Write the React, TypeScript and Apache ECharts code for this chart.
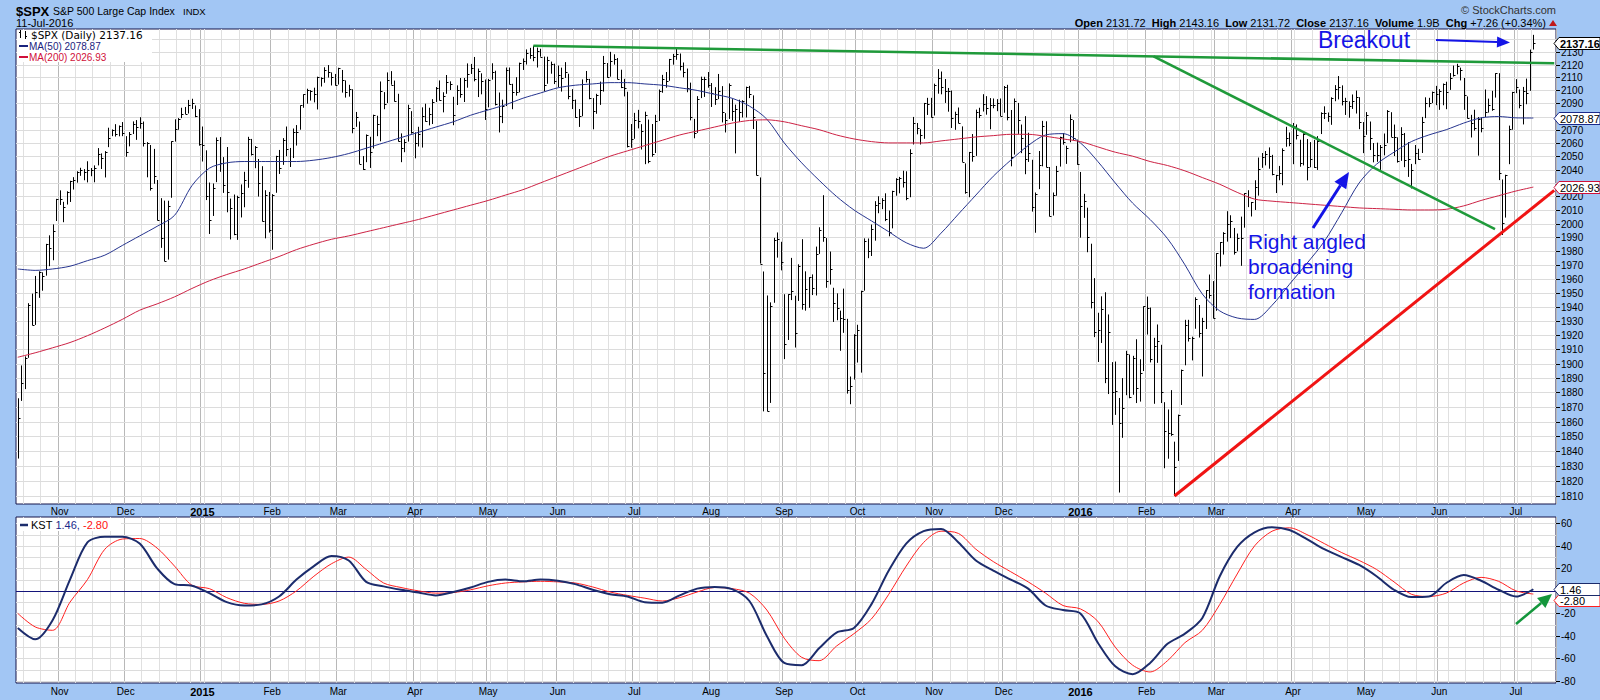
import React, { useEffect, useRef } from 'react';
import * as echarts from 'echarts';

// ---------- calendar ----------
const HOLIDAYS = ['2014-11-27','2014-12-25','2015-01-01','2015-01-19','2015-02-16','2015-04-03','2015-05-25','2015-07-03','2015-09-07','2015-11-26','2015-12-25','2016-01-01','2016-01-18','2016-02-15','2016-03-25','2016-05-30','2016-07-04'];
const FIRST_DAY = '2014-10-16';
const LAST_DAY = '2016-07-11';
const PAD_DAYS = 6;
const MONTH_NAMES = ['Jan','Feb','Mar','Apr','May','Jun','Jul','Aug','Sep','Oct','Nov','Dec'];

// ---------- daily bars [high, low, close] ----------
const oct14 = [[1876.0,1835.0,1862.8],[1898.7,1874.2,1886.8],[1905.0,1882.3,1904.0],[1942.5,1904.0,1941.3],[1949.3,1926.8,1927.1],[1962.0,1927.1,1950.8],[1965.3,1946.3,1964.6],[1964.6,1951.4,1961.6],[1985.2,1962.2,1985.1],[1991.4,1969.0,1982.3],[1999.4,1973.3,1994.7],[2018.2,2001.9,2018.1]];
const nov14 = [[2024.5,2013.7,2017.8],[2016.0,2001.0,2012.1],[2023.8,2014.0,2023.6],[2031.6,2015.9,2031.2],[2034.3,2025.1,2031.9],[2038.7,2030.2,2038.3],[2041.3,2035.3,2039.7],[2040.3,2032.0,2038.3],[2046.2,2030.4,2039.3],[2041.1,2035.0,2039.8],[2043.1,2030.5,2041.3],[2056.1,2043.1,2051.8],[2052.1,2040.4,2048.7],[2053.8,2034.1,2052.8],[2071.5,2056.8,2063.5],[2070.2,2065.1,2069.4],[2074.2,2064.8,2067.0],[2073.2,2065.0,2072.8],[2075.8,2065.1,2067.6]];
const dec14 = [[2065.1,2049.6,2053.4],[2068.2,2057.4,2066.6],[2076.3,2066.7,2074.3],[2077.3,2062.3,2071.9],[2079.5,2070.8,2075.4],[2076.2,2057.3,2060.3],[2060.6,2034.2,2059.8],[2058.4,2024.3,2026.1],[2055.5,2029.4,2035.3],[2032.2,2002.3,2002.3],[2018.7,1982.3,1989.6],[2016.9,1972.6,1972.7],[2016.8,1973.8,2012.9],[2061.2,2019.0,2061.2],[2077.9,2061.0,2070.7],[2078.8,2070.0,2078.5],[2086.7,2078.8,2082.2],[2087.3,2081.9,2081.9],[2092.7,2082.3,2088.8],[2093.6,2085.8,2090.6],[2088.5,2079.5,2080.4],[2085.6,2057.9,2058.9]];
const jan15 = [[2072.4,2046.0,2058.2],[2054.4,2017.3,2020.6],[2030.3,1992.4,2002.6],[2029.6,2005.6,2025.9],[2064.1,2030.6,2062.1],[2064.4,2038.3,2044.8],[2049.3,2022.6,2028.3],[2056.9,2008.3,2023.0],[2018.4,1988.4,2011.3],[2021.4,1991.5,1992.7],[2020.5,1988.1,2019.4],[2028.9,2004.5,2022.6],[2038.3,2012.0,2032.1],[2064.6,2026.4,2063.2],[2063.0,2050.5,2051.8],[2057.6,2041.0,2057.1],[2047.9,2019.9,2029.6],[2042.5,2001.5,2002.2],[2024.6,1989.2,2021.3],[2023.3,1993.4,1995.0]];
const feb15 = [[2021.7,1980.9,2020.9],[2050.3,2022.7,2050.0],[2054.7,2036.7,2041.5],[2063.6,2043.5,2062.5],[2072.4,2050.0,2055.5],[2056.2,2041.9,2046.7],[2070.9,2048.6,2068.6],[2073.5,2058.0,2068.5],[2088.5,2070.0,2088.5],[2097.0,2086.7,2097.0],[2101.3,2089.8,2100.3],[2100.2,2092.2,2099.7],[2102.1,2090.8,2097.5],[2110.6,2085.4,2110.3],[2110.1,2103.0,2109.7],[2117.9,2105.9,2115.5],[2119.6,2109.9,2113.9],[2113.9,2103.8,2110.7],[2112.7,2103.8,2104.5]];
const mar15 = [[2117.5,2104.5,2117.4],[2115.8,2098.3,2107.8],[2107.7,2094.5,2098.5],[2104.3,2095.2,2101.0],[2100.9,2067.3,2071.3],[2083.5,2072.2,2079.4],[2076.2,2044.2,2044.2],[2050.1,2039.7,2040.2],[2066.4,2045.5,2066.0],[2064.6,2041.2,2053.4],[2081.4,2055.8,2081.2],[2080.6,2065.1,2074.3],[2106.9,2061.2,2099.5],[2098.7,2085.6,2089.3],[2113.9,2090.3,2108.1],[2114.9,2104.4,2104.4],[2107.6,2091.5,2091.5],[2097.4,2061.1,2061.1],[2067.2,2045.5,2056.2],[2062.8,2053.0,2061.0],[2089.0,2061.0,2086.2],[2084.1,2067.0,2067.9]];
const apr15 = [[2068.0,2048.4,2059.7],[2072.2,2057.3,2067.0],[2087.0,2056.5,2080.6],[2089.8,2076.1,2076.3],[2086.7,2073.3,2081.9],[2093.3,2074.3,2091.2],[2102.6,2091.1,2102.1],[2107.7,2092.3,2092.4],[2098.6,2083.2,2095.8],[2111.9,2097.4,2106.6],[2107.0,2100.3,2105.0],[2095.1,2073.4,2081.2],[2103.9,2088.8,2100.4],[2109.6,2094.4,2097.3],[2109.6,2091.1,2108.0],[2120.9,2102.1,2112.9],[2120.5,2112.7,2117.7],[2125.9,2107.0,2108.9],[2116.9,2094.9,2114.8],[2113.2,2097.0,2106.9],[2108.4,2077.4,2085.5]];
const may15 = [[2108.9,2087.0,2108.3],[2121.0,2108.3,2114.5],[2115.2,2088.5,2089.5],[2098.4,2067.9,2080.2],[2092.9,2075.0,2088.0],[2117.7,2088.0,2116.1],[2117.7,2104.6,2105.3],[2105.1,2085.6,2099.1],[2110.2,2096.0,2098.5],[2121.5,2098.5,2121.1],[2124.7,2115.8,2122.7],[2131.8,2120.0,2129.2],[2133.0,2124.5,2127.8],[2134.7,2122.6,2125.9],[2133.2,2117.7,2130.8],[2132.3,2126.1,2126.1],[2126.2,2099.2,2104.2],[2126.1,2105.1,2123.5],[2122.3,2112.9,2120.8],[2120.7,2104.9,2107.4]];
const jun15 = [[2119.2,2102.5,2111.7],[2117.6,2099.1,2109.6],[2121.9,2109.6,2114.1],[2112.9,2093.2,2095.8],[2101.0,2085.7,2092.8],[2093.0,2079.1,2079.3],[2085.7,2072.1,2080.2],[2108.5,2080.2,2105.2],[2115.0,2106.1,2108.9],[2108.9,2093.2,2094.1],[2094.1,2070.3,2084.4],[2097.4,2082.1,2096.3],[2106.8,2088.9,2100.4],[2126.7,2099.1,2121.2],[2121.2,2109.8,2110.0],[2129.9,2110.6,2122.9],[2128.0,2119.9,2124.2],[2125.1,2108.6,2108.6],[2116.0,2101.8,2102.3],[2108.9,2095.4,2101.5],[2099.0,2056.6,2057.6],[2074.3,2056.3,2063.1]];
const jul15 = [[2082.8,2063.1,2077.4],[2085.1,2071.0,2076.8],[2074.2,2055.0,2068.8],[2083.7,2044.0,2081.3],[2077.7,2044.7,2046.7],[2074.3,2049.6,2051.3],[2081.3,2052.4,2076.6],[2100.7,2076.6,2099.6],[2112.0,2098.2,2109.0],[2114.2,2102.1,2107.4],[2124.4,2107.4,2124.3],[2128.3,2119.9,2126.6],[2132.8,2123.7,2128.3],[2128.6,2115.4,2119.2],[2121.6,2110.1,2114.2],[2116.9,2098.6,2102.2],[2106.0,2077.1,2079.7],[2078.2,2063.5,2067.6],[2095.6,2067.6,2093.3],[2110.6,2094.1,2108.6],[2110.5,2095.0,2108.6],[2114.2,2102.1,2103.8]];
const aug15 = [[2105.7,2087.3,2098.0],[2102.5,2088.9,2093.3],[2112.7,2093.3,2099.8],[2103.3,2075.5,2083.6],[2082.6,2067.9,2077.6],[2105.4,2078.2,2104.2],[2093.3,2076.7,2084.1],[2089.1,2052.1,2086.1],[2092.9,2076.1,2083.4],[2092.5,2079.3,2091.5],[2102.9,2079.3,2102.4],[2103.5,2094.1,2096.9],[2096.2,2070.5,2079.6],[2076.6,2035.7,2035.7],[2034.1,1970.9,1970.9],[1965.2,1867.0,1893.2],[1948.0,1867.1,1867.6],[1943.1,1872.8,1940.5],[1989.6,1942.8,1987.7],[1993.5,1975.2,1988.9],[1986.7,1966.0,1972.2]];
const sep15 = [[1948.9,1903.1,1913.9],[1948.9,1916.5,1948.9],[1975.0,1944.7,1951.1],[1947.8,1911.2,1921.2],[1970.4,1944.1,1969.4],[1988.6,1937.9,1942.0],[1965.3,1937.2,1952.3],[1961.1,1939.2,1961.1],[1963.1,1948.3,1953.0],[1983.2,1948.0,1978.1],[1997.3,1977.9,1995.3],[2020.9,1986.7,1990.2],[1989.4,1953.5,1958.0],[1979.6,1955.8,1967.0],[1953.5,1929.2,1942.7],[1949.5,1930.4,1938.8],[1937.2,1908.9,1932.2],[1952.9,1921.5,1931.3],[1931.4,1879.2,1881.8],[1891.0,1871.9,1884.1],[1920.5,1888.9,1920.0]];
const oct15 = [[1927.2,1900.7,1923.8],[1951.4,1893.7,1951.4],[1989.2,1951.4,1987.1],[1989.1,1974.8,1979.9],[1999.3,1976.4,1995.8],[2016.5,1987.5,2013.4],[2020.1,2007.6,2014.9],[2018.7,2010.6,2017.5],[2022.3,2001.8,2003.7],[2009.6,1990.7,1994.2],[2024.2,1996.5,2023.9],[2033.5,2020.5,2033.1],[2034.5,2022.3,2033.7],[2039.1,2026.6,2030.8],[2038.7,2017.2,2018.9],[2055.2,2019.4,2052.5],[2079.7,2058.8,2075.2],[2075.1,2066.5,2071.2],[2070.4,2058.8,2065.9],[2090.4,2063.1,2090.4],[2094.3,2081.2,2089.4],[2094.3,2079.3,2079.4]];
const nov15 = [[2105.2,2080.8,2104.1],[2116.5,2097.5,2109.8],[2114.6,2097.0,2102.3],[2108.8,2090.4,2099.9],[2101.9,2083.7,2099.2],[2099.9,2071.3,2078.6],[2083.7,2069.9,2081.7],[2086.9,2074.9,2075.0],[2072.5,2045.7,2046.0],[2044.6,2022.0,2023.0],[2053.2,2019.4,2053.2],[2066.7,2045.9,2050.4],[2085.3,2050.2,2083.6],[2086.7,2078.8,2081.2],[2097.1,2083.8,2089.2],[2095.6,2081.4,2086.6],[2094.1,2070.3,2089.1],[2093.8,2086.3,2088.9],[2093.3,2084.1,2090.1],[2093.8,2080.4,2080.4]];
const dec15 = [[2103.4,2082.9,2102.6],[2104.3,2077.1,2079.5],[2085.0,2042.4,2049.6],[2093.8,2051.2,2091.7],[2090.4,2066.8,2077.1],[2073.9,2052.3,2063.6],[2080.3,2036.5,2047.6],[2067.7,2045.7,2052.2],[2047.3,2008.8,2012.4],[2022.9,1993.3,2021.9],[2053.9,2025.4,2043.4],[2076.7,2042.4,2073.1],[2076.4,2041.7,2041.9],[2041.9,2005.3,2005.6],[2022.9,2005.9,2021.2],[2042.7,2020.5,2039.0],[2064.7,2042.2,2064.3],[2067.4,2058.7,2061.0],[2057.8,2044.2,2056.5],[2081.6,2060.5,2078.4],[2077.3,2062.0,2063.4],[2062.5,2043.6,2043.9]];
const jan16 = [[2038.2,1989.7,2012.7],[2021.9,2004.2,2016.7],[2011.7,1979.1,1990.3],[1985.3,1938.8,1943.1],[1960.4,1918.5,1922.0],[1935.7,1901.1,1923.7],[1947.4,1914.4,1938.7],[1950.3,1886.4,1890.3],[1934.5,1878.9,1921.8],[1901.0,1857.8,1880.3],[1901.4,1864.6,1881.3],[1876.2,1812.3,1859.3],[1889.9,1849.0,1869.0],[1908.9,1878.1,1906.9],[1906.3,1876.0,1877.1],[1905.4,1878.4,1903.6],[1917.0,1872.7,1883.0],[1903.0,1873.7,1893.4],[1940.2,1894.8,1940.2]];
const feb16 = [[1947.2,1920.3,1939.4],[1939.4,1900.8,1903.0],[1918.0,1872.2,1912.5],[1927.4,1900.5,1915.5],[1913.1,1872.7,1880.1],[1873.3,1828.5,1853.4],[1868.3,1834.9,1852.2],[1881.6,1850.3,1851.9],[1846.4,1810.1,1829.1],[1864.8,1833.4,1864.8],[1895.8,1871.4,1895.6],[1930.7,1898.8,1926.8],[1930.7,1915.4,1917.8],[1918.8,1902.2,1917.8],[1946.7,1924.4,1945.5],[1941.2,1918.2,1921.3],[1932.1,1891.0,1929.8],[1951.8,1924.2,1951.7],[1963.0,1945.8,1948.1],[1958.3,1931.8,1932.2]];
const mar16 = [[1978.4,1937.1,1978.4],[1986.5,1968.8,1986.5],[1993.7,1977.4,1993.4],[2009.1,1986.8,2000.0],[2006.1,1989.4,2001.8],[1996.8,1977.4,1979.3],[1992.7,1979.8,1989.3],[2005.1,1969.3,1989.6],[2022.4,1997.0,2022.2],[2024.6,2012.1,2019.6],[2015.9,2005.2,2015.9],[2032.0,2010.0,2027.2],[2049.0,2020.6,2040.6],[2052.4,2041.3,2049.6],[2053.9,2043.1,2051.6],[2056.6,2040.6,2049.8],[2051.0,2035.7,2036.7],[2036.0,2022.5,2035.9],[2042.7,2032.0,2037.1],[2055.9,2028.3,2055.0],[2072.2,2057.1,2064.0],[2067.9,2057.5,2059.7]];
const apr16 = [[2075.1,2044.0,2072.8],[2074.0,2062.6,2066.1],[2062.4,2042.1,2045.2],[2067.3,2043.1,2066.7],[2062.9,2031.9,2041.9],[2060.6,2041.7,2047.6],[2062.3,2041.2,2042.0],[2065.1,2039.7,2061.7],[2083.2,2066.7,2082.4],[2087.8,2078.1,2082.8],[2083.1,2076.0,2080.7],[2094.7,2073.7,2094.3],[2104.1,2091.7,2100.8],[2111.1,2093.1,2102.4],[2103.9,2088.5,2091.5],[2094.3,2081.2,2091.6],[2091.6,2079.1,2087.8],[2096.9,2085.8,2091.7],[2099.9,2082.3,2095.2],[2094.8,2070.4,2075.8],[2075.8,2052.3,2065.3]];
const may16 = [[2083.4,2066.1,2081.4],[2076.2,2054.6,2063.4],[2059.9,2045.4,2051.1],[2060.2,2045.8,2050.6],[2058.4,2039.7,2057.1],[2067.1,2050.6,2058.7],[2084.9,2059.9,2084.4],[2083.3,2064.5,2064.5],[2073.9,2050.1,2064.1],[2064.2,2045.2,2046.6],[2071.9,2046.5,2066.7],[2067.5,2041.8,2047.2],[2060.6,2034.5,2047.6],[2044.2,2025.9,2040.0],[2058.4,2044.0,2052.3],[2055.6,2047.3,2048.0],[2079.7,2052.4,2076.1],[2094.7,2078.8,2090.5],[2094.3,2087.1,2090.1],[2099.1,2090.3,2099.1],[2103.5,2088.7,2097.0]];
const jun16 = [[2101.0,2085.1,2099.3],[2105.3,2088.6,2105.3],[2106.7,2085.6,2099.1],[2113.4,2100.4,2109.4],[2119.2,2110.7,2112.1],[2120.6,2112.4,2119.1],[2117.6,2107.7,2115.5],[2109.6,2085.1,2096.1],[2095.4,2078.5,2079.1],[2081.3,2064.1,2075.3],[2085.2,2069.3,2071.5],[2079.6,2050.4,2078.0],[2079.3,2068.0,2071.2],[2100.7,2079.6,2083.3],[2093.7,2083.0,2088.9],[2099.7,2084.4,2085.5],[2113.3,2094.5,2113.3],[2113.3,2032.1,2037.4],[2032.6,1991.7,2000.5],[2036.1,2004.4,2036.1],[2073.1,2044.0,2070.8],[2098.9,2070.0,2098.9]];
const jul16 = [[2108.7,2097.9,2103.0],[2100.7,2086.3,2088.6],[2102.7,2074.0,2099.7],[2109.1,2089.4,2097.9],[2131.7,2099.7,2129.9],[2143.2,2131.7,2137.2]];

// ---------- indicator lines, read every 5 bars ----------
const SAMPLE_STEP = 5;
const ma50 = [1967,1966,1967,1969,1973,1977,1984,1991,1998,2006,2028,2041,2045,2046,2046,2046,2046,2047,2049,2052,2056,2060,2064,2068,2072,2076,2081,2085,2089,2094,2098,2102,2104,2105,2106,2106,2105,2104,2102,2100,2097,2094,2088,2078,2060,2045,2032,2020,2010,2002,1994,1986,1982,1993,2007,2021,2035,2047,2058,2066,2067,2060,2046,2030,2015,2003,1989,1970,1949,1937,1932,1931,1941,1956,1971,1987,2008,2030,2044,2053,2061,2066,2070,2075,2079,2080,2079,2078.87];
const ma200 = [1904.4,1907.5,1911,1914.7,1919.5,1925,1931,1937.5,1942,1947,1953,1958.5,1963,1967,1971.5,1976,1981,1985,1988.5,1991,1994,1997,2000,2003,2006.5,2010,2013.5,2017,2021,2025,2030,2035,2040,2045,2050,2054,2058,2062,2066,2069,2072,2075,2077,2077.5,2076,2073,2070,2066,2063,2061,2060,2060,2060,2061.5,2063,2064.5,2065.5,2066.5,2066.5,2065,2063,2061,2057,2053,2050,2046,2043,2039,2034,2029,2023,2018,2016.5,2015.5,2014.5,2013.5,2012.5,2011.5,2011,2010.5,2010,2010,2010.5,2013,2017,2020.5,2024,2026.93];
const kst = [-33,-43,-26,10,43,48,48,42,20,6,4.5,-2,-10,-13,-12,-5,10,22,31,27,8,4,1,-1.5,-4,-1,3,8,10,8.5,10,9,6,1,-3,-5,-10,-10.5,-4,2,3.5,1.5,-9,-40,-64,-66,-51,-37,-33,-12,18,42,53,55,43,27,18,10,2,-13,-17,-20,-46,-67,-74,-64,-47,-38,-24,13,39,52,56.5,54,46,37,30,23,13,1,-5.5,-5,7,14,9,1,-5,1.46];
const kstSignal = [-20,-32,-35,-10,10,37,46,46.5,38,22,5,2,-6,-11,-12,-9,0,13,24,30,19,7,3,0,-2,-1.5,1,4.5,7,8,8.5,8,7,3.5,-1,-4,-6.5,-9,-6,-1,3,2,-2,-17,-42,-59,-62,-49,-38,-25,-3,22,43,53,51,37,26,17,8,-2,-13,-16,-27,-50,-66,-72,-62,-46,-35,-12,15,40,53,56,50,42,34,27,19,8,-3,-5,-2,7,12,8.5,0,-2.8];

// ---------- trend lines drawn on the chart [barIndex, price] ----------
const resistanceLine = [[148, 2134.7], [441, 2121.0]];
const fallingLine = [[326, 2126.4], [424, 1996.0]];
const supportLine = [[332, 1810.0], [441, 2024.5]];

// ---------- axis ticks ----------
const priceTicks = [1810,1820,1830,1840,1850,1860,1870,1880,1890,1900,1910,1920,1930,1940,1950,1960,1970,1980,1990,2000,2010,2020,2030,2040,2050,2060,2070,2080,2090,2100,2110,2120,2130,2140];
const kstGridLevels = [-80,-70,-60,-50,-40,-30,-20,-10,0,10,20,30,40,50,60];
const kstTickLabels = [-80,-60,-40,-20,0,20,40,60];

const priceEndBoxes = [
  { v: 2026.93, text: '2026.93', border: '#d0103a', color: '#000', bold: false, dy: 0 },
  { v: 2078.87, text: '2078.87', border: '#1a2a8a', color: '#000', bold: false, dy: 0 },
  { v: 2137.16, text: '2137.16', border: '#000', color: '#000', bold: true, dy: 0 },
];
const kstEndBoxes = [
  { v: -2.80, text: '-2.80', border: '#ff2020', color: '#000', bold: false, dy: 6 },
  { v: 1.46, text: '1.46', border: '#1a2a6a', color: '#000', bold: false, dy: 0 },
];

const FONT = '"Liberation Sans", Arial, sans-serif';
const BG = '#a2c6f4';

function buildDates(): string[] {
  const out: string[] = [];
  const start = Date.parse(FIRST_DAY + 'T00:00:00Z');
  const end = Date.parse(LAST_DAY + 'T00:00:00Z');
  for (let t = start; t <= end; t += 86400000) {
    const d = new Date(t);
    const wd = d.getUTCDay();
    if (wd === 0 || wd === 6) continue;
    const s = d.toISOString().slice(0, 10);
    if (HOLIDAYS.indexOf(s) >= 0) continue;
    out.push(s);
  }
  return out;
}

function arrow(x1: number, y1: number, x2: number, y2: number, color: string, width: number, head: number, half: number) {
  const a = Math.atan2(y2 - y1, x2 - x1);
  const bx = x2 - head * Math.cos(a);
  const by = y2 - head * Math.sin(a);
  const px = Math.sin(a) * half;
  const py = -Math.cos(a) * half;
  return [
    { type: 'line', z: 100, shape: { x1, y1, x2: bx, y2: by }, style: { stroke: color, lineWidth: width } },
    { type: 'polygon', z: 100, shape: { points: [[x2, y2], [bx + px, by + py], [bx - px, by - py]] }, style: { fill: color } },
  ];
}

function boxY(api: any, b: any) {
  return Math.round(api.coord([0, b.v])[1]) + 0.5 + b.dy;
}

function boxRenderer(boxes: any[]) {
  return (params: any, api: any) => {
    const b = boxes[params.dataIndex];
    const cs = params.coordSys;
    const y = boxY(api, b);
    const x0 = cs.x + cs.width - 2;
    const w = 46, h = 12;
    return {
      type: 'group',
      children: [
        { type: 'polygon', shape: { points: [[x0, y], [x0 + 5, y - h / 2], [x0 + w, y - h / 2], [x0 + w, y + h / 2], [x0 + 5, y + h / 2]] }, style: { fill: '#fff', stroke: b.border, lineWidth: 1 } },
        { type: 'text', x: x0 + 6, y: y, style: { text: b.text, fill: b.color, font: (b.bold ? 'bold ' : '') + '11px ' + FONT, verticalAlign: 'middle', textVerticalAlign: 'middle' } },
      ],
    };
  };
}

function gridRenderer(labels: number[] | null, zeroColor: string | null, boxes: any[]) {
  return (params: any, api: any) => {
    const cs = params.coordSys;
    const v = api.value(1);
    const y = Math.round(api.coord([0, v])[1]) + 0.5;
    const right = cs.x + cs.width;
    const isZero = zeroColor && v === 0;
    const children: any[] = [
      { type: 'line', shape: { x1: cs.x, y1: y, x2: right, y2: y }, style: { stroke: isZero ? zeroColor : '#dcdcdc', lineWidth: 1 } },
    ];
    const hidden = boxes.some((b) => Math.abs(boxY(api, b) - y) < 8);
    if ((!labels || labels.indexOf(v) >= 0) && !hidden) {
      children.push({ type: 'line', shape: { x1: right, y1: y, x2: right + 4, y2: y }, style: { stroke: '#000', lineWidth: 1 } });
      children.push({ type: 'text', x: right + 5, y: y, style: { text: String(v), fill: '#000', font: '10px ' + FONT, verticalAlign: 'middle', textVerticalAlign: 'middle' } });
    }
    return { type: 'group', children };
  };
}

export default function App() {
  const ref = useRef<HTMLDivElement>(null);
  useEffect(() => {
    if (!ref.current) return;
    const chart = echarts.init(ref.current, null, { renderer: 'svg' });

    const dates = buildDates();
    const bars = [oct14, nov14, dec14, jan15, feb15, mar15, apr15, may15, jun15, jul15, aug15, sep15, oct15, nov15, dec15, jan16, feb16, mar16, apr16, may16, jun16, jul16].flat();
    const cats = dates.slice();
    for (let i = 0; i < PAD_DAYS; i++) cats.push('pad' + i);
    const monthStart: boolean[] = cats.map((c, i) => i > 0 && i < dates.length && dates[i].slice(5, 7) !== dates[i - 1].slice(5, 7));
    const weekNum = (s: string) => Math.floor((Date.parse(s + 'T00:00:00Z') / 86400000 + 3) / 7);
    const weekStart: boolean[] = cats.map((c, i) => i > 0 && i < dates.length && weekNum(dates[i]) !== weekNum(dates[i - 1]));
    const monthLabel = (value: string) => {
      const m = parseInt(value.slice(5, 7), 10);
      return m === 1 ? '{y|' + value.slice(0, 4) + '}' : MONTH_NAMES[m - 1];
    };

    const ohlcData = bars.map((b, i) => [i, b[0], b[1], b[2]]);
    const sampled = (arr: number[]) => arr.map((v, k) => [k * SAMPLE_STEP, v]);

    const xBase = (grid: number, kind: 'week' | 'month', labelMargin: number) => ({
      type: 'category', gridIndex: grid, data: cats, boundaryGap: true, position: 'bottom',
      axisLine: { show: false }, axisTick: { show: false },
      axisLabel: kind === 'month'
        ? { show: true, interval: (i: number) => monthStart[i], formatter: (v: string) => monthLabel(v), margin: labelMargin, fontSize: 10, color: '#000', fontFamily: FONT, rich: { y: { fontWeight: 'bold', fontSize: 11, fontFamily: FONT, color: '#000' } } }
        : { show: false },
      splitLine: { show: true, interval: (i: number) => (kind === 'month' ? monthStart[i] : weekStart[i]), lineStyle: { color: kind === 'month' ? '#b8b8b8' : '#e0e0e0', width: 1 } },
    });

    const option: any = {
      animation: false,
      backgroundColor: BG,
      textStyle: { fontFamily: FONT },
      grid: [
        { left: 16, top: 29, width: 1540, height: 475, show: true, backgroundColor: '#fff', borderColor: '#14144a', borderWidth: 1 },
        { left: 16, top: 517, width: 1540, height: 166, show: true, backgroundColor: '#fff', borderColor: '#14144a', borderWidth: 1 },
      ],
      xAxis: [xBase(0, 'week', 2), xBase(0, 'month', 2), xBase(1, 'week', 3), xBase(1, 'month', 3)],
      yAxis: [
        { type: 'log', gridIndex: 0, min: 1804.7, max: 2147.8, show: false },
        { type: 'value', gridIndex: 1, min: -81.8, max: 65.6, show: false },
      ],
      series: [
        { type: 'custom', xAxisIndex: 0, yAxisIndex: 0, z: 1, silent: true, clip: false, data: priceTicks.map((v) => [0, v]), encode: { x: 0, y: 1 }, renderItem: gridRenderer(null, null, priceEndBoxes) },
        {
          type: 'custom', name: '$SPX', xAxisIndex: 0, yAxisIndex: 0, z: 2, silent: true, data: ohlcData, encode: { x: 0, y: [1, 2, 3] },
          renderItem: (params: any, api: any) => {
            const i = api.value(0);
            const hi = api.coord([i, api.value(1)]);
            const lo = api.coord([i, api.value(2)]);
            const cl = api.coord([i, api.value(3)]);
            const x = Math.round(hi[0]) + 0.5;
            const yc = Math.round(cl[1]) + 0.5;
            return {
              type: 'group', children: [
                { type: 'line', shape: { x1: x, y1: hi[1], x2: x, y2: lo[1] }, style: { stroke: '#000', lineWidth: 1 } },
                { type: 'line', shape: { x1: x, y1: yc, x2: x + 2, y2: yc }, style: { stroke: '#000', lineWidth: 1 } },
              ],
            };
          },
        },
        { type: 'line', name: 'MA(50)', xAxisIndex: 0, yAxisIndex: 0, z: 3, silent: true, data: sampled(ma50), symbol: 'none', smooth: 0.3, lineStyle: { color: '#26348e', width: 1 } },
        { type: 'line', name: 'MA(200)', xAxisIndex: 0, yAxisIndex: 0, z: 3, silent: true, data: sampled(ma200), symbol: 'none', smooth: 0.3, lineStyle: { color: '#cc2244', width: 1 } },
        { type: 'line', xAxisIndex: 0, yAxisIndex: 0, z: 4, silent: true, data: resistanceLine, symbol: 'none', lineStyle: { color: '#1f9a3a', width: 2.5 } },
        { type: 'line', xAxisIndex: 0, yAxisIndex: 0, z: 4, silent: true, data: fallingLine, symbol: 'none', lineStyle: { color: '#1f9a3a', width: 2.5 } },
        { type: 'line', xAxisIndex: 0, yAxisIndex: 0, z: 4, silent: true, data: supportLine, symbol: 'none', lineStyle: { color: '#f01414', width: 3 } },
        { type: 'custom', xAxisIndex: 0, yAxisIndex: 0, z: 10, silent: true, clip: false, data: priceEndBoxes.map((b) => [0, b.v]), encode: { x: 0, y: 1 }, renderItem: boxRenderer(priceEndBoxes) },

        { type: 'custom', xAxisIndex: 2, yAxisIndex: 1, z: 1, silent: true, clip: false, data: kstGridLevels.map((v) => [0, v]), encode: { x: 0, y: 1 }, renderItem: gridRenderer(kstTickLabels, '#14147a', kstEndBoxes) },
        { type: 'line', name: 'KST signal', xAxisIndex: 2, yAxisIndex: 1, z: 3, silent: true, data: sampled(kstSignal), symbol: 'none', smooth: 0.3, lineStyle: { color: '#ff2020', width: 1 } },
        { type: 'line', name: 'KST', xAxisIndex: 2, yAxisIndex: 1, z: 4, silent: true, data: sampled(kst), symbol: 'none', smooth: 0.3, lineStyle: { color: '#1c2c6c', width: 2 } },
        { type: 'custom', xAxisIndex: 2, yAxisIndex: 1, z: 10, silent: true, clip: false, data: kstEndBoxes.map((b) => [0, b.v]), encode: { x: 0, y: 1 }, renderItem: boxRenderer(kstEndBoxes) },
      ],
      graphic: [
        // header
        { type: 'text', x: 16, y: 11, z: 100, style: { text: '$SPX', font: 'bold 13px ' + FONT, fill: '#000', verticalAlign: 'middle', textVerticalAlign: 'middle' } },
        { type: 'text', x: 53, y: 11, z: 100, style: { text: 'S&P 500 Large Cap Index', font: '10.5px ' + FONT, fill: '#000', verticalAlign: 'middle', textVerticalAlign: 'middle' } },
        { type: 'text', x: 183, y: 11, z: 100, style: { text: 'INDX', font: '9.5px ' + FONT, fill: '#000', verticalAlign: 'middle', textVerticalAlign: 'middle' } },
        { type: 'text', x: 16, y: 23, z: 100, style: { text: '11-Jul-2016', font: '11px ' + FONT, fill: '#000', verticalAlign: 'middle', textVerticalAlign: 'middle' } },
        { type: 'text', x: 1556, y: 10, z: 100, style: { text: '© StockCharts.com', font: '11px ' + FONT, fill: '#333', align: 'right', textAlign: 'right', verticalAlign: 'middle', textVerticalAlign: 'middle' } },
        {
          type: 'text', x: 1546, y: 23, z: 100,
          style: {
            text: '{b|Open} 2131.72  {b|High} 2143.16  {b|Low} 2131.72  {b|Close} 2137.16  {b|Volume} 1.9B  {b|Chg} +7.26 (+0.34%)',
            font: '11px ' + FONT, fill: '#000', align: 'right', textAlign: 'right', verticalAlign: 'middle', textVerticalAlign: 'middle',
            rich: { b: { fontWeight: 'bold', fontSize: 11, fontFamily: FONT, fill: '#000', color: '#000' } },
          },
        },
        { type: 'polygon', z: 100, shape: { points: [[1549, 26], [1557, 26], [1553, 20]] }, style: { fill: '#c01818' } },
        // price panel legend
        { type: 'rect', z: 100, shape: { x: 17, y: 30, width: 135, height: 32 }, style: { fill: '#fff' } },
        { type: 'line', z: 101, shape: { x1: 20.5, y1: 30, x2: 20.5, y2: 38 }, style: { stroke: '#000', lineWidth: 1 } },
        { type: 'line', z: 101, shape: { x1: 19, y1: 32.5, x2: 20.5, y2: 32.5 }, style: { stroke: '#000', lineWidth: 1 } },
        { type: 'line', z: 101, shape: { x1: 25.5, y1: 31, x2: 25.5, y2: 39 }, style: { stroke: '#000', lineWidth: 1 } },
        { type: 'line', z: 101, shape: { x1: 25.5, y1: 36.5, x2: 27, y2: 36.5 }, style: { stroke: '#000', lineWidth: 1 } },
        { type: 'text', x: 31, y: 35, z: 101, style: { text: '$SPX (Daily) 2137.16', font: '10.5px "DejaVu Sans", sans-serif', fill: '#000', verticalAlign: 'middle', textVerticalAlign: 'middle' } },
        { type: 'line', z: 101, shape: { x1: 19, y1: 46, x2: 28, y2: 46 }, style: { stroke: '#1a237e', lineWidth: 2 } },
        { type: 'text', x: 29, y: 46, z: 101, style: { text: 'MA(50) 2078.87', font: '10px ' + FONT, fill: '#1a237e', verticalAlign: 'middle', textVerticalAlign: 'middle' } },
        { type: 'line', z: 101, shape: { x1: 19, y1: 57, x2: 28, y2: 57 }, style: { stroke: '#d0103a', lineWidth: 2 } },
        { type: 'text', x: 29, y: 57, z: 101, style: { text: 'MA(200) 2026.93', font: '10px ' + FONT, fill: '#d0103a', verticalAlign: 'middle', textVerticalAlign: 'middle' } },
        // kst legend
        { type: 'rect', z: 100, shape: { x: 17, y: 518, width: 104, height: 13 }, style: { fill: '#fff' } },
        { type: 'line', z: 101, shape: { x1: 20, y1: 525, x2: 28, y2: 525 }, style: { stroke: '#1c2c6c', lineWidth: 2.5 } },
        {
          type: 'text', x: 31, y: 525, z: 101,
          style: {
            text: '{k|KST} {a|1.46,} {r|-2.80}', font: '11px ' + FONT, verticalAlign: 'middle', textVerticalAlign: 'middle',
            rich: { k: { fill: '#000', color: '#000', fontSize: 11, fontFamily: FONT }, a: { fill: '#1a2a8a', color: '#1a2a8a', fontSize: 11, fontFamily: FONT }, r: { fill: '#ff1010', color: '#ff1010', fontSize: 11, fontFamily: FONT } },
          },
        },
        // annotations
        { type: 'text', x: 1318, y: 40, z: 100, style: { text: 'Breakout', font: '23px ' + FONT, fill: '#1414e6', verticalAlign: 'middle', textVerticalAlign: 'middle' } },
        ...arrow(1436, 40, 1510, 42.5, '#1414e6', 2, 13, 5.5),
        { type: 'text', x: 1248, y: 241, z: 100, style: { text: 'Right angled', font: '21px ' + FONT, fill: '#1414e6', verticalAlign: 'middle', textVerticalAlign: 'middle' } },
        { type: 'text', x: 1248, y: 266, z: 100, style: { text: 'broadening', font: '21px ' + FONT, fill: '#1414e6', verticalAlign: 'middle', textVerticalAlign: 'middle' } },
        { type: 'text', x: 1248, y: 291, z: 100, style: { text: 'formation', font: '21px ' + FONT, fill: '#1414e6', verticalAlign: 'middle', textVerticalAlign: 'middle' } },
        ...arrow(1313, 228, 1349, 172, '#1414e6', 3, 16, 7),
        ...arrow(1516, 624, 1552, 594, '#14963c', 2.5, 14, 6.5),
      ],
    };
    chart.setOption(option);
    return () => chart.dispose();
  }, []);
  return <div ref={ref} style={{ position: 'fixed', left: 0, top: 0, width: 1600, height: 700 }} />;
}
